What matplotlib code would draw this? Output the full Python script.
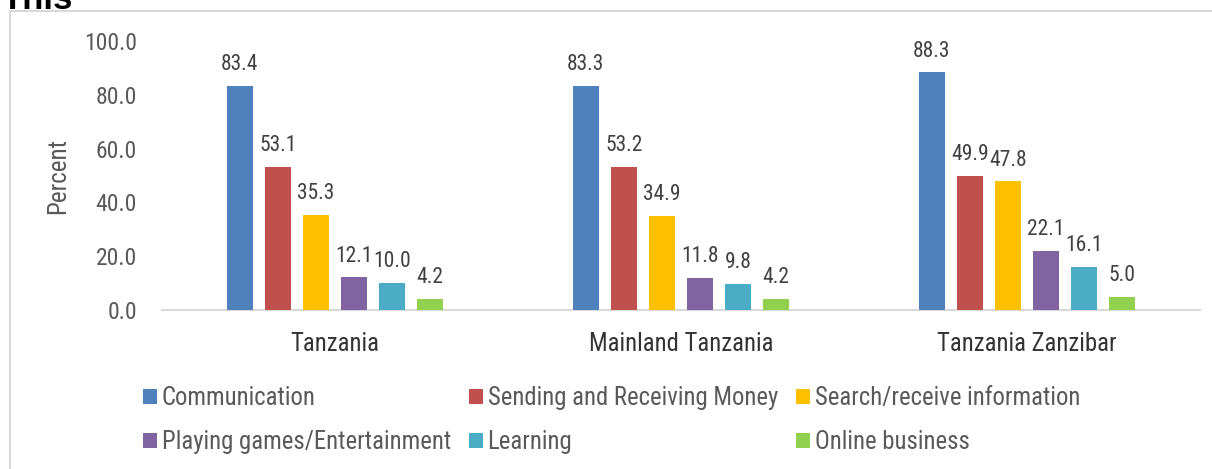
import matplotlib
matplotlib.use("Agg")
import matplotlib.pyplot as plt
import numpy as np
from matplotlib.patches import Rectangle

categories = ["Tanzania", "Mainland Tanzania", "Tanzania Zanzibar"]
series_names = ["Communication", "Sending and Receiving Money", "Search/receive information",
                "Playing games/Entertainment", "Learning", "Online business"]
communication = [83.4, 83.3, 88.3]
money = [53.1, 53.2, 49.9]
information = [35.3, 34.9, 47.8]
games = [12.1, 11.8, 22.1]
learning = [10.0, 9.8, 16.1]
online = [4.2, 4.2, 5.0]
yticks = [0, 20, 40, 60, 80, 100]

series = [communication, money, information, games, learning, online]
colors = ["#4F81BD", "#C0504D", "#FFC000", "#8064A2", "#4BACC6", "#92D050"]

plt.rcParams['font.family'] = ['Roboto Condensed', 'Liberation Sans', 'DejaVu Sans']
txt = "#595959"

W, H = 1212, 469
fig = plt.figure(figsize=(W / 100, H / 100), dpi=100)
ax = fig.add_axes([162 / W, (H - 310) / H, (1200 - 162) / W, 269 / H])

x = np.arange(len(categories))
step = 0.11
width = 0.075
handles = []
for i, (vals, c) in enumerate(zip(series, colors)):
    pos = x + (i - 2.5) * step
    b = ax.bar(pos, vals, width, color=c, label=series_names[i], zorder=3)
    handles.append(b)
    for px, v in zip(pos, vals):
        ax.text(px, v + 4, f"{v:.1f}", ha='center', va='bottom', fontsize=15.5, color="#404040")

ax.set_xlim(-0.5, 2.5)
ax.set_ylim(0, 100)
ax.set_yticks(yticks)
ax.set_yticklabels([f"{t:.1f}" for t in yticks], fontsize=17, color=txt)
ax.set_xticks(x)
ax.set_xticklabels(categories, fontsize=17.8, color="#333333")
ax.tick_params(axis='both', length=0)
ax.tick_params(axis='y', pad=18)
ax.tick_params(axis='x', pad=16)
for s in ['top', 'right', 'left']:
    ax.spines[s].set_visible(False)
ax.spines['bottom'].set_color("#D9D9D9")
ax.spines['bottom'].set_linewidth(1.5)
ax.set_ylabel("Percent", fontsize=18, color=txt, labelpad=10)

col_x = [143, 469, 796]
row_y = [398, 442]
for i, (h, name) in enumerate(zip(handles, series_names)):
    cx = col_x[i % 3]
    cy = row_y[i // 3]
    leg = fig.legend(handles=[h], labels=[name], loc='center left',
                     bbox_to_anchor=(cx / W, 1 - cy / H), frameon=False,
                     fontsize=17.8, handlelength=0.55, handleheight=0.55, handletextpad=0.2,
                     borderpad=0, borderaxespad=0)
    for t in leg.get_texts():
        t.set_color(txt)

fig.patches.append(Rectangle((10 / W, -0.1), 1.2, (H - 11) / H + 0.1, transform=fig.transFigure,
                             fill=False, edgecolor="#D9D9D9", linewidth=1.5))
fig.text(2 / W, 1 - 9 / H, "This", fontsize=25, fontweight='bold', family=['Liberation Sans', 'DejaVu Sans'],
         ha='left', va='baseline', color='black')

fig.savefig("out.png", dpi=100)
